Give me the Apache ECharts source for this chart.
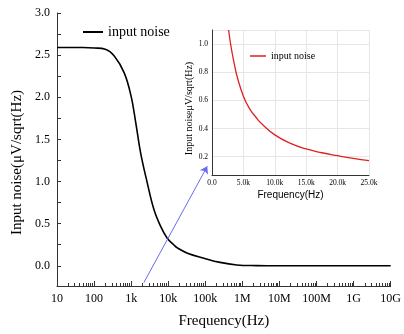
<!DOCTYPE html>
<html>
<head>
<meta charset="utf-8">
<script src="https://cdn.jsdelivr.net/npm/echarts@6/dist/echarts.min.js"></script>
<style>
  html, body { margin: 0; padding: 0; background: #fff; }
  #chart { width: 404px; height: 334px; }
</style>
</head>
<body>
<div id="chart"></div>
<script>
// main plot: noise vs frequency (log)
const freq = [10, 50, 100, 200, 350, 650, 1000, 1330, 1800, 2700, 4100, 6200, 9300, 14000, 18000, 33000, 92000, 250000, 700000, 2400000, 1e7, 1e8, 1e9, 1e10]
const noise = [2.59, 2.59, 2.585, 2.57, 2.49, 2.29, 2.01, 1.70, 1.34, 0.99, 0.67, 0.47, 0.33, 0.25, 0.21, 0.15, 0.09, 0.04, 0.01, 0.002, 0, 0, 0, 0]
const freqTickValues = [10, 100, 1e3, 1e4, 1e5, 1e6, 1e7, 1e8, 1e9, 1e10]
const freqTickLabels = ['10', '100', '1k', '10k', '100k', '1M', '10M', '100M', '1G', '10G']
const noiseLabels = [0, 0.5, 1.0, 1.5, 2.0, 2.5, 3.0]
const noiseTicks = [0, 0.25, 0.5, 0.75, 1.0, 1.25, 1.5, 1.75, 2.0, 2.25, 2.5, 2.75, 3.0]

// inset: linear zoom 0..25k
const zoomFreq = [2650, 3000, 3500, 4000, 5000, 6000, 7000, 8000, 10000, 12500, 15000, 17500, 20000, 22500, 25000]
const zoomNoise = [1.10, 0.99, 0.87, 0.77, 0.63, 0.54, 0.48, 0.43, 0.355, 0.295, 0.255, 0.228, 0.207, 0.188, 0.172]

// arrow from main axis to inset corner
const arrowFrom = [2200, -0.2]
const arrowTo = [113000, 1.18]

let minorFreq = []
for (let d = 10; d < 1e10; d *= 10) {
  for (let k = 2; k <= 9; k++) minorFreq.push(d * k)
}

const serif = 'Liberation Serif'

let chart = echarts.init(document.getElementById('chart'))
let option = {
  animation: false,
  legend: [{
    left: 78,
    top: 20,
    itemWidth: 20,
    itemHeight: 2,
    icon: 'rect',
    selectedMode: false,
    textStyle: { fontFamily: serif, fontSize: 14, color: '#000' },
    data: [{ name: 'input noise', itemStyle: { color: '#000' } }]
  }, {
    left: 245,
    top: 46,
    itemWidth: 16,
    itemHeight: 1.5,
    itemGap: 2,
    icon: 'rect',
    selectedMode: false,
    textStyle: { fontFamily: serif, fontSize: 10, color: '#000' },
    data: [{ name: 'input noise', itemStyle: { color: '#e02020' } }]
  }],
  grid: [
    { left: 57, right: 9, top: 13, bottom: 48 },
    { left: 212, right: 35, top: 30, bottom: 159 }
  ],
  xAxis: [{
    type: 'log',
    gridIndex: 0,
    min: 10,
    max: 1e10,
    name: 'Frequency(Hz)',
    nameLocation: 'middle',
    nameGap: 28,
    nameTextStyle: { fontFamily: serif, fontSize: 15, color: '#000' },
    axisLine: { onZero: false, lineStyle: { color: '#333' } },
    axisTick: { inside: true, length: 5, customValues: freqTickValues, lineStyle: { color: '#333' } },
    axisLabel: {
      customValues: freqTickValues,
      margin: 7,
      fontFamily: serif,
      fontSize: 12,
      color: '#000',
      formatter: v => freqTickLabels[Math.round(Math.log10(v)) - 1]
    },
    splitLine: { show: false }
  }, {
    type: 'log',
    gridIndex: 0,
    position: 'bottom',
    min: 10,
    max: 1e10,
    axisLine: { show: false, onZero: false },
    axisTick: { inside: true, length: 3, customValues: minorFreq, lineStyle: { color: '#333' } },
    axisLabel: { show: false },
    splitLine: { show: false }
  }, {
    type: 'value',
    gridIndex: 1,
    min: 0,
    max: 25000,
    interval: 5000,
    name: 'Frequency(Hz)',
    nameLocation: 'middle',
    nameGap: 15,
    nameTextStyle: { fontFamily: 'Liberation Sans', fontSize: 10, color: '#000' },
    axisLine: { onZero: false, lineStyle: { color: '#333' } },
    axisTick: { show: false },
    axisLabel: {
      margin: 4,
      fontFamily: serif,
      fontSize: 7.5,
      color: '#000',
      formatter: v => v === 0 ? '0.0' : (v / 1000).toFixed(1) + 'k'
    },
    splitLine: { show: true, lineStyle: { color: '#e6e6e6' } }
  }],
  yAxis: [{
    type: 'value',
    gridIndex: 0,
    min: -0.24,
    max: 3,
    name: 'Input noise(μV/sqrt(Hz)',
    nameLocation: 'middle',
    nameGap: 32,
    nameTextStyle: { fontFamily: serif, fontSize: 15, color: '#000', padding: [0, 26, 0, 0] },
    axisLine: { show: true, onZero: false, lineStyle: { color: '#333' } },
    axisTick: { inside: true, length: 4, customValues: noiseTicks, lineStyle: { color: '#333' } },
    axisLabel: {
      customValues: noiseLabels,
      margin: 7,
      fontFamily: serif,
      fontSize: 12,
      color: '#000',
      formatter: v => v.toFixed(1)
    },
    splitLine: { show: false }
  }, {
    type: 'value',
    gridIndex: 1,
    min: 0.07,
    max: 1.1,
    splitNumber: 5,
    name: 'Input noiseμV/sqrt(Hz)',
    nameLocation: 'middle',
    nameGap: 17,
    nameTextStyle: { fontFamily: serif, fontSize: 10, color: '#000', padding: [0, 12, 0, 0] },
    axisLine: { show: true, onZero: false, lineStyle: { color: '#333' } },
    axisTick: { show: false },
    axisLabel: {
      showMinLabel: false,
      showMaxLabel: false,
      margin: 4,
      fontFamily: serif,
      fontSize: 7.5,
      color: '#000',
      formatter: v => v.toFixed(1)
    },
    splitLine: { show: true, lineStyle: { color: '#e6e6e6' } }
  }],
  series: [{
    name: 'input noise',
    type: 'line',
    xAxisIndex: 0,
    yAxisIndex: 0,
    data: freq.map((f, i) => [f, noise[i]]),
    smooth: 0.4,
    showSymbol: false,
    lineStyle: { color: '#000', width: 1.6 },
    itemStyle: { color: '#000' },
    markLine: {
      silent: true,
      symbol: ['none', 'arrow'],
      symbolSize: 7,
      label: { show: false },
      lineStyle: { color: '#6a6af0', width: 1, type: 'solid' },
      data: [[{ coord: arrowFrom }, { coord: arrowTo }]]
    }
  }, {
    name: 'input noise',
    type: 'line',
    xAxisIndex: 2,
    yAxisIndex: 1,
    data: zoomFreq.map((f, i) => [f, zoomNoise[i]]),
    smooth: 0.5,
    showSymbol: false,
    lineStyle: { color: '#e02020', width: 1.3 },
    itemStyle: { color: '#e02020' }
  }]
}
chart.setOption(option)
</script>
</body>
</html>
